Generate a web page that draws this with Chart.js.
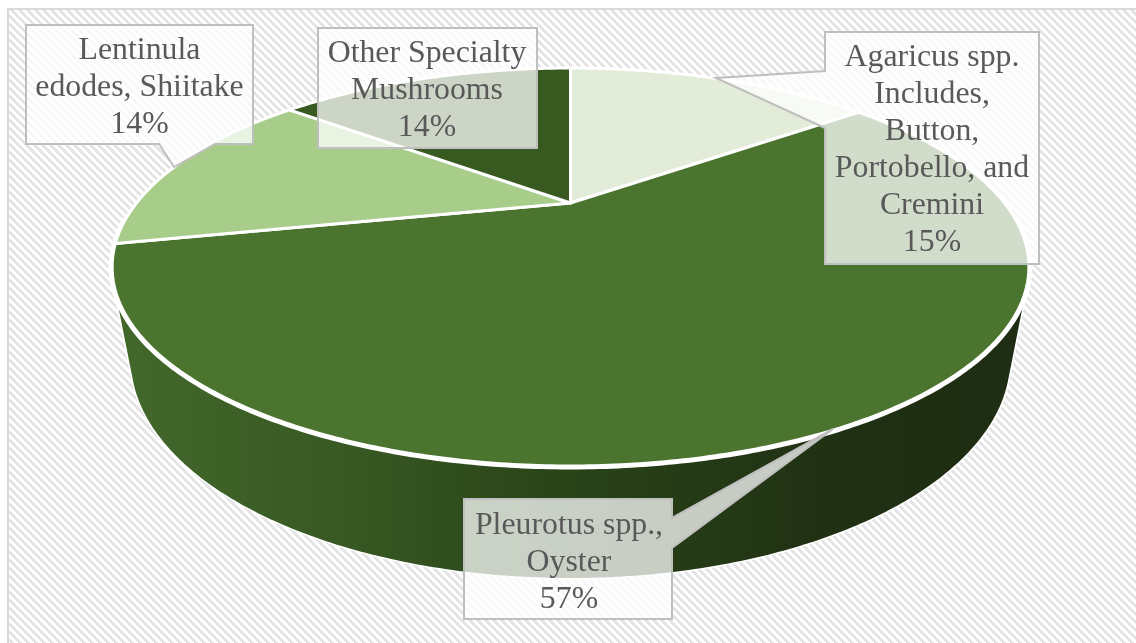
<!DOCTYPE html>
<html>
<head>
<meta charset="utf-8">
<style>
html,body{margin:0;padding:0;background:#fff;overflow:hidden}
#wrap{position:absolute;left:0;top:0;width:1136px;height:643px}
</style>
<script src="https://cdn.jsdelivr.net/npm/chart.js@4/dist/chart.umd.js"></script>
</head>
<body>
<div id="wrap"><canvas id="c" width="1136" height="643"></canvas></div>
<script>
const categories = ["Agaricus spp. Includes, Button, Portobello, and Cremini", "Pleurotus spp., Oyster", "Lentinula edodes, Shiitake", "Other Specialty Mushrooms"];
const shares = [14.6, 57.0, 14.2, 14.2];
const sliceColors = ["#e2ecd8", "#4b742f", "#a8cd8b", "#385a21"];
const labelLines = [
  ["Agaricus spp.", "Includes,", "Button,", "Portobello, and", "Cremini"],
  ["Pleurotus spp.,", "Oyster"],
  ["Lentinula", "edodes, Shiitake"],
  ["Other Specialty", "Mushrooms"]
];

/* layout only */
const topPlane = {cx:570.5, cy:203, a:434, b:178.4, k:0.3216};
const basePlane = {cx:570.5, cy:287, a:415, b:195, k:0.33};
const callouts = [
  {x:825,y:32,w:214,h:232,tx:932,base:66,tail:[[825,128],[716,78],[825,71]],side:"left"},
  {x:464,y:499,w:208,h:120,tx:569,base:534,tail:[[672,518],[833,429],[672,548]],side:"right"},
  {x:26,y:25,w:227,h:119,tx:139.5,base:59,tail:[[215,144],[174,167],[159,144]],side:"bottom"},
  {x:318,y:28,w:219,h:120,tx:427,base:62,tail:null,side:null}
];

function project(plane, angle){
  const u = Math.cos(angle), v = Math.sin(angle), w = 1 - plane.k * v;
  return [plane.cx + plane.a * u / w, plane.cy + plane.b * v / w];
}
function tracePlane(ctx, plane, from, to, move){
  const n = Math.max(2, Math.ceil(Math.abs(to - from) / 0.01));
  for(let i = 0; i <= n; i++){
    const p = project(plane, from + (to - from) * i / n);
    if(i === 0 && move) ctx.moveTo(p[0], p[1]); else ctx.lineTo(p[0], p[1]);
  }
}
function convexHull(points){
  const pts = points.slice().sort((a,b) => a[0] - b[0] || a[1] - b[1]);
  const cross = (o,a,b) => (a[0]-o[0])*(b[1]-o[1]) - (a[1]-o[1])*(b[0]-o[0]);
  const build = (list) => {
    const h = [];
    list.forEach(p => {
      while(h.length >= 2 && cross(h[h.length-2], h[h.length-1], p) <= 0) h.pop();
      h.push(p);
    });
    h.pop();
    return h;
  };
  return build(pts).concat(build(pts.slice().reverse()));
}

/* Arc elements keep the angles the pie controller computes and are drawn through the tilted plane */
Chart.ArcElement.prototype.draw = function(ctx){
  const o = this.options;
  ctx.save();
  ctx.beginPath();
  ctx.moveTo(topPlane.cx, topPlane.cy);
  tracePlane(ctx, topPlane, this.startAngle, this.endAngle, false);
  ctx.closePath();
  ctx.fillStyle = o.backgroundColor;
  ctx.fill();
  ctx.lineJoin = "round";
  ctx.lineWidth = o.borderWidth;
  ctx.strokeStyle = o.borderColor;
  ctx.stroke();
  ctx.restore();
};

function hatch(ctx){
  const t = document.createElement("canvas");
  t.width = 8; t.height = 8;
  const g = t.getContext("2d");
  g.fillStyle = "#ffffff"; g.fillRect(0,0,8,8);
  g.fillStyle = "#e4e4e4";
  for(let y = 0; y < 8; y++) for(let x = 0; x < 8; x++){
    if(((x - y) % 8 + 8) % 8 < 4) g.fillRect(x,y,1,1);
  }
  return ctx.createPattern(t, "repeat");
}

const backdrop = {
  id:"backdrop",
  beforeDraw(chart){
    const ctx = chart.ctx, W = chart.width, H = chart.height;
    ctx.save();
    ctx.fillStyle = "#ffffff"; ctx.fillRect(0,0,W,H);
    ctx.fillStyle = hatch(ctx); ctx.fillRect(7,8,W-7,H-8);
    ctx.fillStyle = "#d9d9d9";
    ctx.fillRect(7,8,W-7,2);
    ctx.fillRect(7,8,2,H-8);
    ctx.restore();
  }
};

const wall = {
  id:"wall",
  beforeDatasetsDraw(chart){
    const ctx = chart.ctx;
    const arc = chart.getDatasetMeta(0).data[1];
    const from = arc.startAngle, to = arc.endAngle;
    const grad = ctx.createLinearGradient(130,0,1022,0);
    grad.addColorStop(0,"#42672b");
    grad.addColorStop(0.25,"#375822");
    grad.addColorStop(0.5,"#294218");
    grad.addColorStop(0.8,"#1f3013");
    grad.addColorStop(1,"#1e2d13");
    const pts = [];
    for(let a = from; a <= to; a += 0.01){
      pts.push(project(topPlane,a), project(basePlane,a));
    }
    const hull = convexHull(pts);
    ctx.save();
    ctx.beginPath();
    hull.forEach((p,i) => i ? ctx.lineTo(p[0],p[1]) : ctx.moveTo(p[0],p[1]));
    ctx.closePath();
    ctx.lineJoin = "round";
    ctx.strokeStyle = "#ffffff"; ctx.lineWidth = 3; ctx.stroke();
    ctx.fillStyle = grad; ctx.fill();
    /* heavy white rim between the top face and the wall */
    ctx.beginPath();
    tracePlane(ctx, topPlane, 0.1, Math.PI - 0.1, true);
    ctx.strokeStyle = "#ffffff"; ctx.lineWidth = 7; ctx.lineCap = "round"; ctx.stroke();
    ctx.restore();
  }
};

const labels = {
  id:"calloutLabels",
  afterDatasetsDraw(chart){
    const ctx = chart.ctx;
    const total = shares.reduce((s,v) => s + v, 0);
    callouts.forEach((c,i) => {
      ctx.save();
      ctx.beginPath();
      const L = c.x, R = c.x + c.w, T = c.y, B = c.y + c.h;
      ctx.moveTo(L,T);
      ctx.lineTo(R,T);
      if(c.side === "right") c.tail.forEach(p => ctx.lineTo(p[0],p[1]));
      ctx.lineTo(R,B);
      if(c.side === "bottom") c.tail.forEach(p => ctx.lineTo(p[0],p[1]));
      ctx.lineTo(L,B);
      if(c.side === "left") c.tail.forEach(p => ctx.lineTo(p[0],p[1]));
      ctx.closePath();
      ctx.fillStyle = "rgba(255,255,255,0.75)";
      ctx.fill();
      ctx.strokeStyle = "#bfbfbf"; ctx.lineWidth = 2; ctx.lineJoin = "miter";
      ctx.stroke();
      ctx.fillStyle = "#595959";
      ctx.font = '31.8px "Liberation Serif", serif';
      ctx.textAlign = "center"; ctx.textBaseline = "alphabetic";
      const lines = labelLines[i].concat(Math.round(shares[i] / total * 100) + "%");
      lines.forEach((t,j) => ctx.fillText(t, c.tx, c.base + j * 37));
      ctx.restore();
    });
  }
};

new Chart(document.getElementById("c"), {
  type:"pie",
  data:{labels:categories, datasets:[{data:shares, backgroundColor:sliceColors, borderColor:"#ffffff", borderWidth:3}]},
  options:{
    responsive:false,
    animation:false,
    rotation:0,
    plugins:{legend:{display:false}, tooltip:{enabled:false}},
    layout:{padding:0}
  },
  plugins:[backdrop, wall, labels]
});
</script>
</body>
</html>
